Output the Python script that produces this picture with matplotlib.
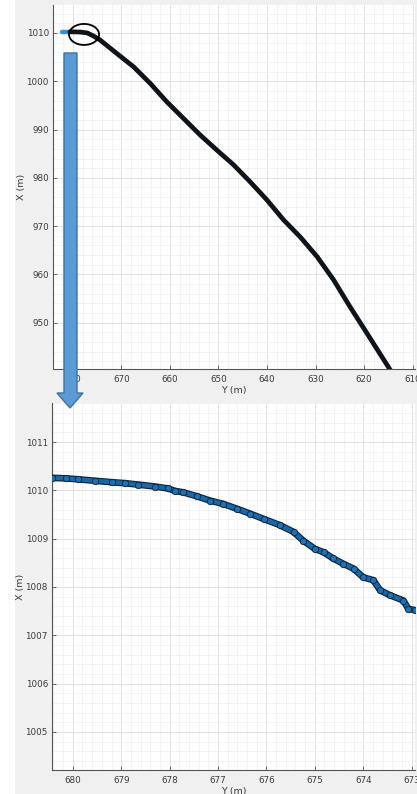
import matplotlib
matplotlib.use("Agg")
import matplotlib.pyplot as plt
import matplotlib.patheffects as pe
from matplotlib.patches import Ellipse, Polygon, Rectangle
from matplotlib.ticker import MultipleLocator

# ---------------- data ----------------
# overview trajectory (Y, X) in metres
top_start_y = [682.3, 681.4, 680.6]
top_start_x = [1010.25, 1010.25, 1010.25]
top_y = [680.6, 678.5, 677.0, 675.8, 674.4, 671.0, 667.5, 664.1, 660.7,
         657.2, 653.8, 650.4, 646.9, 643.5, 640.0, 636.6, 633.2, 629.7,
         626.3, 622.9, 619.4, 614.6]
top_x = [1010.25, 1010.2, 1010.0, 1009.4, 1008.55, 1005.8, 1003.0, 999.6,
         995.8, 992.3, 988.9, 985.8, 982.7, 979.2, 975.4, 971.3, 967.8,
         963.7, 958.9, 953.3, 947.8, 940.2]

# zoomed trajectory (Y, X) in metres
zoom_y = [680.43, 680.15, 679.89, 679.55, 679.20, 678.92, 678.65, 678.30,
          678.03, 677.89, 677.72, 677.44, 677.17, 676.89, 676.61, 676.34,
          676.06, 675.72, 675.44, 675.24, 675.00, 674.82, 674.62, 674.41,
          674.20, 674.00, 673.79, 673.65, 673.45, 673.17, 673.07, 672.93]
zoom_x = [1010.26, 1010.25, 1010.23, 1010.20, 1010.17, 1010.15, 1010.12,
          1010.08, 1010.04, 1009.99, 1009.96, 1009.88, 1009.79, 1009.72,
          1009.62, 1009.52, 1009.41, 1009.28, 1009.14, 1008.96, 1008.79,
          1008.72, 1008.59, 1008.48, 1008.38, 1008.20, 1008.14, 1007.93,
          1007.83, 1007.72, 1007.55, 1007.52]

top_xticks = [680, 670, 660, 650, 640, 630, 620, 610]
top_yticks = [950, 960, 970, 980, 990, 1000, 1010]
bot_xticks = [680, 679, 678, 677, 676, 675, 674, 673]
bot_yticks = [1005, 1006, 1007, 1008, 1009, 1010, 1011]

# ---------------- figure ----------------
W, H = 417, 794
fig = plt.figure(figsize=(W / 100, H / 100), dpi=100, facecolor="#f0f0f0")
fig.add_artist(Rectangle((0, 0), 15 / W, 1, transform=fig.transFigure,
                         facecolor="white", edgecolor="none", zorder=0))


def px_rect(left, top, right, bottom):
    return [left / W, 1 - bottom / H, (right - left) / W, (bottom - top) / H]


def style(ax, minor_x, minor_y):
    ax.set_facecolor("white")
    for s in ("top", "right"):
        ax.spines[s].set_visible(False)
    for s in ("left", "bottom"):
        ax.spines[s].set_color("#555555")
        ax.spines[s].set_linewidth(0.8)
    ax.xaxis.set_minor_locator(MultipleLocator(minor_x))
    ax.yaxis.set_minor_locator(MultipleLocator(minor_y))
    ax.tick_params(which="major", direction="in", length=3, width=0.6,
                   colors="#555555", labelsize=6.3, labelcolor="#3a3a3a")
    ax.tick_params(which="minor", length=0)
    ax.tick_params(axis="x", pad=4)
    ax.tick_params(axis="y", pad=3)
    ax.grid(True, which="major", color="#dcdcdc", linewidth=0.6)
    ax.grid(True, which="minor", color="#efefef", linewidth=0.5)
    ax.set_axisbelow(True)
    ax.set_xlabel("Y (m)", fontsize=6.8, color="#3a3a3a", labelpad=1.5)
    ax.set_ylabel("X (m)", fontsize=6.8, color="#3a3a3a", labelpad=0.5)


# top overview panel
ax1 = fig.add_axes(px_rect(53, 5, 415, 369))
ax1.set_xlim(684.1, 609.5)
ax1.set_ylim(940.4, 1015.8)
ax1.set_xticks(top_xticks)
ax1.set_yticks(top_yticks)
style(ax1, 2, 2)
ax1.plot(top_start_y, top_start_x, color="#3a8fd0", lw=3.2,
         solid_capstyle="round", zorder=3)
ax1.plot(top_y, top_x, color="#101418", lw=3.4, solid_capstyle="round",
         solid_joinstyle="round", zorder=4)
ax1.add_patch(Ellipse((677.7, 1009.7), 6.2, 4.35, facecolor="none",
                      edgecolor="black", lw=1.3, zorder=5))

# bottom zoomed panel
ax2 = fig.add_axes(px_rect(52, 403, 415, 770))
ax2.set_xlim(680.43, 672.93)
ax2.set_ylim(1004.21, 1011.81)
ax2.set_xticks(bot_xticks)
ax2.set_yticks(bot_yticks)
style(ax2, 0.2, 0.2)
ax2.plot(zoom_y, zoom_x, color="#1a67a8", lw=3.2, solid_capstyle="round",
         solid_joinstyle="round", zorder=3,
         path_effects=[pe.Stroke(linewidth=4.8, foreground="#0b2338"),
                       pe.Normal()])
ax2.plot(zoom_y, zoom_x, linestyle="none", marker="o", ms=4.6,
         markerfacecolor="#1f70b5", markeredgecolor="#0b2338", mew=0.6,
         zorder=4)

# blue arrow linking the panels (figure pixel coordinates)
arrow_px = [(64, 53), (77, 53), (77, 393), (83, 393), (70, 408),
            (57, 393), (64, 393)]
arrow = Polygon([(x / W, 1 - y / H) for x, y in arrow_px], closed=True,
                transform=fig.transFigure, facecolor="#5b9bd5",
                edgecolor="#41719c", lw=1.0, zorder=10)
fig.add_artist(arrow)

fig.savefig("out.png", dpi=100, facecolor=fig.get_facecolor())
